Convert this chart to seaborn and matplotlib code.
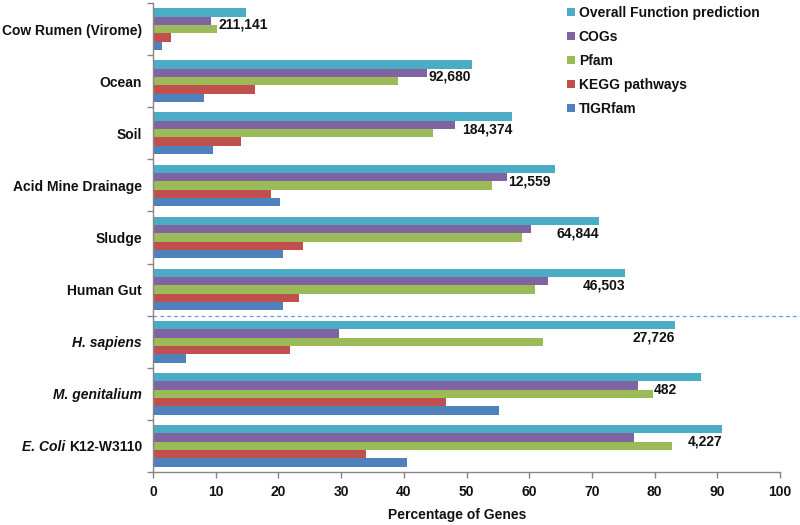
import numpy as np
import pandas as pd
import matplotlib
matplotlib.use("Agg")
import matplotlib.pyplot as plt
import seaborn as sns

categories = ["Cow Rumen (Virome)", "Ocean", "Soil", "Acid Mine Drainage", "Sludge",
              "Human Gut", "H. sapiens", "M. genitalium", "E. Coli K12-W3110"]
tick_labels = ["Cow Rumen (Virome)", "Ocean", "Soil", "Acid Mine Drainage", "Sludge",
               "Human Gut", "H. sapiens", "M. genitalium", "K12-W3110"]
italic_labels = ["H. sapiens", "M. genitalium"]
series_names = ["Overall Function prediction", "COGs", "Pfam", "KEGG pathways", "TIGRfam"]
overall = [14.9, 50.9, 57.3, 64.1, 71.1, 75.3, 83.3, 87.4, 90.8]
cogs = [9.3, 43.7, 48.2, 56.4, 60.3, 63.0, 29.6, 77.3, 76.7]
pfam = [10.2, 39.1, 44.6, 54.1, 58.8, 61.0, 62.2, 79.7, 82.7]
kegg = [2.9, 16.2, 14.1, 18.8, 23.9, 23.3, 21.9, 46.7, 33.9]
tigrfam = [1.5, 8.1, 9.6, 20.3, 20.7, 20.8, 5.2, 55.2, 40.5]
gene_counts = [211141, 92680, 184374, 12559, 64844, 46503, 27726, 482, 4227]
colors = ["#4BACC6", "#8064A2", "#9BBB59", "#C0504D", "#4F81BD"]

sns.set_style("white")
plt.rcParams["font.family"] = ["Liberation Sans", "DejaVu Sans"]

rows = []
for i, c in enumerate(categories):
    for s, vals in zip(series_names, [overall, cogs, pfam, kegg, tigrfam]):
        rows.append({"category": c, "series": s, "value": vals[i]})
df = pd.DataFrame(rows)

fig = plt.figure(figsize=(8, 5.25), dpi=100)
ax = fig.add_axes([153/800, 1-472/525, 627/800, 469/525])
sns.barplot(data=df, y="category", x="value", hue="series", order=categories,
            hue_order=series_names, palette=colors, orient="h", width=0.8,
            linewidth=0, saturation=1, ax=ax, legend=True)

ax.set_xlim(0, 100)
ax.set_ylim(len(categories) - 0.5, -0.5)
ax.set_xticks(np.arange(0, 101, 10))
ax.set_yticks(range(len(categories)))
ax.set_yticklabels(tick_labels)
ax.set_yticks(np.arange(-0.5, len(categories), 1), minor=True)
ax.tick_params(axis="y", which="major", length=0, pad=8, labelsize=10)
ax.tick_params(axis="y", which="minor", length=4, color="#868686", width=1, left=True)
ax.tick_params(axis="x", which="major", length=4, color="#868686", width=1, bottom=True,
               labelsize=10, pad=5)
for lab in ax.get_yticklabels() + ax.get_xticklabels():
    lab.set_fontweight("bold")
    lab.set_color("#111111")
    if lab.get_text() in italic_labels:
        lab.set_fontstyle("italic")
for sp in ["top", "right"]:
    ax.spines[sp].set_visible(False)
for sp in ["left", "bottom"]:
    ax.spines[sp].set_color("#868686")
    ax.spines[sp].set_linewidth(1)
ax.set_ylabel("")
ax.set_xlabel("Percentage of Genes", fontsize=10, fontweight="bold", color="#111111")
ax.xaxis.set_label_coords(0.485, -0.076)

# italic genus prefix for E. coli label
ecoli_lab = ax.get_yticklabels()[-1]
ax.annotate("E. Coli ", xy=(0, 0), xycoords=ecoli_lab, ha="right", va="bottom",
            fontsize=10, fontweight="bold", fontstyle="italic", color="#111111",
            annotation_clip=False)

# dashed separator between metagenomes and genomes
ax.axhline(5.5, xmin=0, xmax=(800-153)/627, color="#6A9AD0", linestyle=(0, (3, 2.5)),
           linewidth=0.9, clip_on=False)

# gene count labels
for i, n in enumerate(gene_counts):
    y = i - 0.08
    txt = f"{n:,}"
    if overall[i] - max(cogs[i], pfam[i]) < 8:
        ax.text(max(cogs[i], pfam[i]) + 0.2, y, txt, ha="left", va="center",
                fontsize=10, fontweight="bold", color="#111111")
    else:
        ax.text(overall[i], y, txt, ha="right", va="center",
                fontsize=10, fontweight="bold", color="#111111")

handles, labels = ax.get_legend_handles_labels()
ax.legend(handles, labels, loc="upper left", bbox_to_anchor=(567/800, 1-6/525),
          bbox_transform=fig.transFigure, frameon=False, prop={"weight": "bold", "size": 10},
          handlelength=0.55, handleheight=0.55, handletextpad=0.3, labelspacing=0.72,
          borderpad=0, borderaxespad=0)
for t in ax.get_legend().get_texts():
    t.set_color("#111111")

fig.savefig("out.png", dpi=100)
